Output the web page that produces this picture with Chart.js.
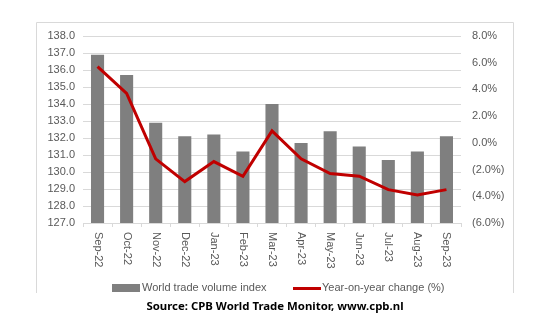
<!DOCTYPE html>
<html>
<head>
<meta charset="utf-8">
<script src="https://cdn.jsdelivr.net/npm/chart.js@4/dist/chart.umd.min.js"></script>
<style>
  html, body { margin: 0; padding: 0; background: #fff; }
  .wrap { position: relative; width: 550px; height: 330px; }
  canvas { position: absolute; left: 0; top: 0; }
  .legend { position: absolute; top: 281px; left: 0; width: 550px; height: 14px;
    font: 11px "Liberation Sans", Arial, sans-serif; color: #595959; }
  .legend span { position: absolute; top: 0; white-space: nowrap; }
  .swatch-bar { position: absolute; left: 112px; top: 284px; width: 28px; height: 8px; background: #7f7f7f; }
  .swatch-line { position: absolute; left: 293px; top: 287px; width: 28px; height: 3px; background: #c00000; }
  .source { position: absolute; top: 298px; left: 0; width: 550px; text-align: center;
    font: bold 11.4px "Noto Sans", sans-serif; color: #000; }
</style>
</head>
<body>
<div class="wrap">
  <canvas id="myChart" width="550" height="330"></canvas>
  <div class="swatch-bar"></div>
  <div class="swatch-line"></div>
  <div class="legend">
    <span style="left:142px">World trade volume index</span>
    <span style="left:322px">Year-on-year change (%)</span>
  </div>
  <div class="source">Source: CPB World Trade Monitor, www.cpb.nl</div>
</div>
<script>
{
  'use strict';

  /* Data */
  const months = ['Sep-22', 'Oct-22', 'Nov-22', 'Dec-22', 'Jan-23', 'Feb-23', 'Mar-23',
    'Apr-23', 'May-23', 'Jun-23', 'Jul-23', 'Aug-23', 'Sep-23'];
  const volumeIndex = [136.9, 135.7, 132.9, 132.1, 132.2, 131.2, 134.0, 131.7, 132.4, 131.5, 130.7, 131.2, 132.1];
  const yoyChange = [5.7, 3.7, -1.2, -2.9, -1.4, -2.5, 0.9, -1.2, -2.3, -2.5, -3.5, -3.9, -3.5];
  const leftTicks = { min: 127, max: 138, step: 1 };
  const rightTicks = { min: -6, max: 8, step: 2 };

  const tickFont = { family: '"Liberation Sans", Arial, sans-serif', size: 11 };
  const tickColor = '#595959';

  /* Frame + rotated month labels */
  const framePlugin = {
    id: 'frame',
    beforeDraw(chart) {
      const ctx = chart.ctx;
      ctx.save();
      ctx.strokeStyle = '#d9d9d9';
      ctx.lineWidth = 1;
      ctx.beginPath();
      ctx.moveTo(36.5, 293);
      ctx.lineTo(36.5, 22.5);
      ctx.lineTo(513.5, 22.5);
      ctx.lineTo(513.5, 293);
      ctx.stroke();
      ctx.restore();
    },
    afterDraw(chart) {
      const ctx = chart.ctx;
      const xScale = chart.scales.x;
      ctx.save();
      ctx.font = tickFont.size + 'px ' + tickFont.family;
      ctx.fillStyle = tickColor;
      ctx.textAlign = 'left';
      ctx.textBaseline = 'middle';
      months.forEach(function(m, i) {
        const x = xScale.getPixelForValue(i);
        ctx.save();
        ctx.translate(x, chart.chartArea.bottom + 9);
        ctx.rotate(Math.PI / 2);
        ctx.fillText(m, 0, 0);
        ctx.restore();
      });
      ctx.restore();
    }
  };

  function initChart() {
    const ctx = document.getElementById('myChart').getContext('2d');

    new Chart(ctx, {
      data: {
        labels: months,
        datasets: [{
          type: 'line',
          label: 'Year-on-year change (%)',
          data: yoyChange,
          yAxisID: 'y1',
          borderColor: '#c00000',
          backgroundColor: '#c00000',
          borderWidth: 3,
          pointRadius: 0,
          tension: 0,
          order: 0
        },
        {
          type: 'bar',
          label: 'World trade volume index',
          data: volumeIndex,
          yAxisID: 'y',
          backgroundColor: '#7f7f7f',
          categoryPercentage: 1,
          barPercentage: 0.45,
          order: 1
        }]
      },
      options: {
        responsive: false,
        animation: false,
        layout: { padding: { left: 36, right: 36, top: 36, bottom: 0 } },
        plugins: {
          legend: { display: false },
          tooltip: { enabled: false }
        },
        scales: {
          x: {
            offset: true,
            ticks: { display: false },
            grid: {
              offset: true,
              drawOnChartArea: false,
              drawTicks: true,
              tickLength: 4,
              color: '#d9d9d9'
            },
            border: { display: true, color: '#d9d9d9' },
            afterFit(scale) { scale.height = 107; }
          },
          y: {
            position: 'left',
            min: leftTicks.min,
            max: leftTicks.max,
            ticks: {
              stepSize: leftTicks.step,
              font: tickFont,
              color: tickColor,
              padding: 8,
              callback: v => v.toFixed(1)
            },
            grid: { color: '#d9d9d9', drawTicks: false },
            border: { display: false },
            afterFit(scale) { scale.width = 47; }
          },
          y1: {
            position: 'right',
            min: rightTicks.min,
            max: rightTicks.max,
            ticks: {
              stepSize: rightTicks.step,
              font: tickFont,
              color: tickColor,
              padding: 11,
              callback: v => v < 0 ? '(' + Math.abs(v).toFixed(1) + '%)' : v.toFixed(1) + '%'
            },
            grid: { display: false, drawTicks: false },
            border: { display: false },
            afterFit(scale) { scale.width = 53; }
          }
        }
      },
      plugins: [framePlugin]
    });
  }

  initChart();
}
</script>
</body>
</html>
